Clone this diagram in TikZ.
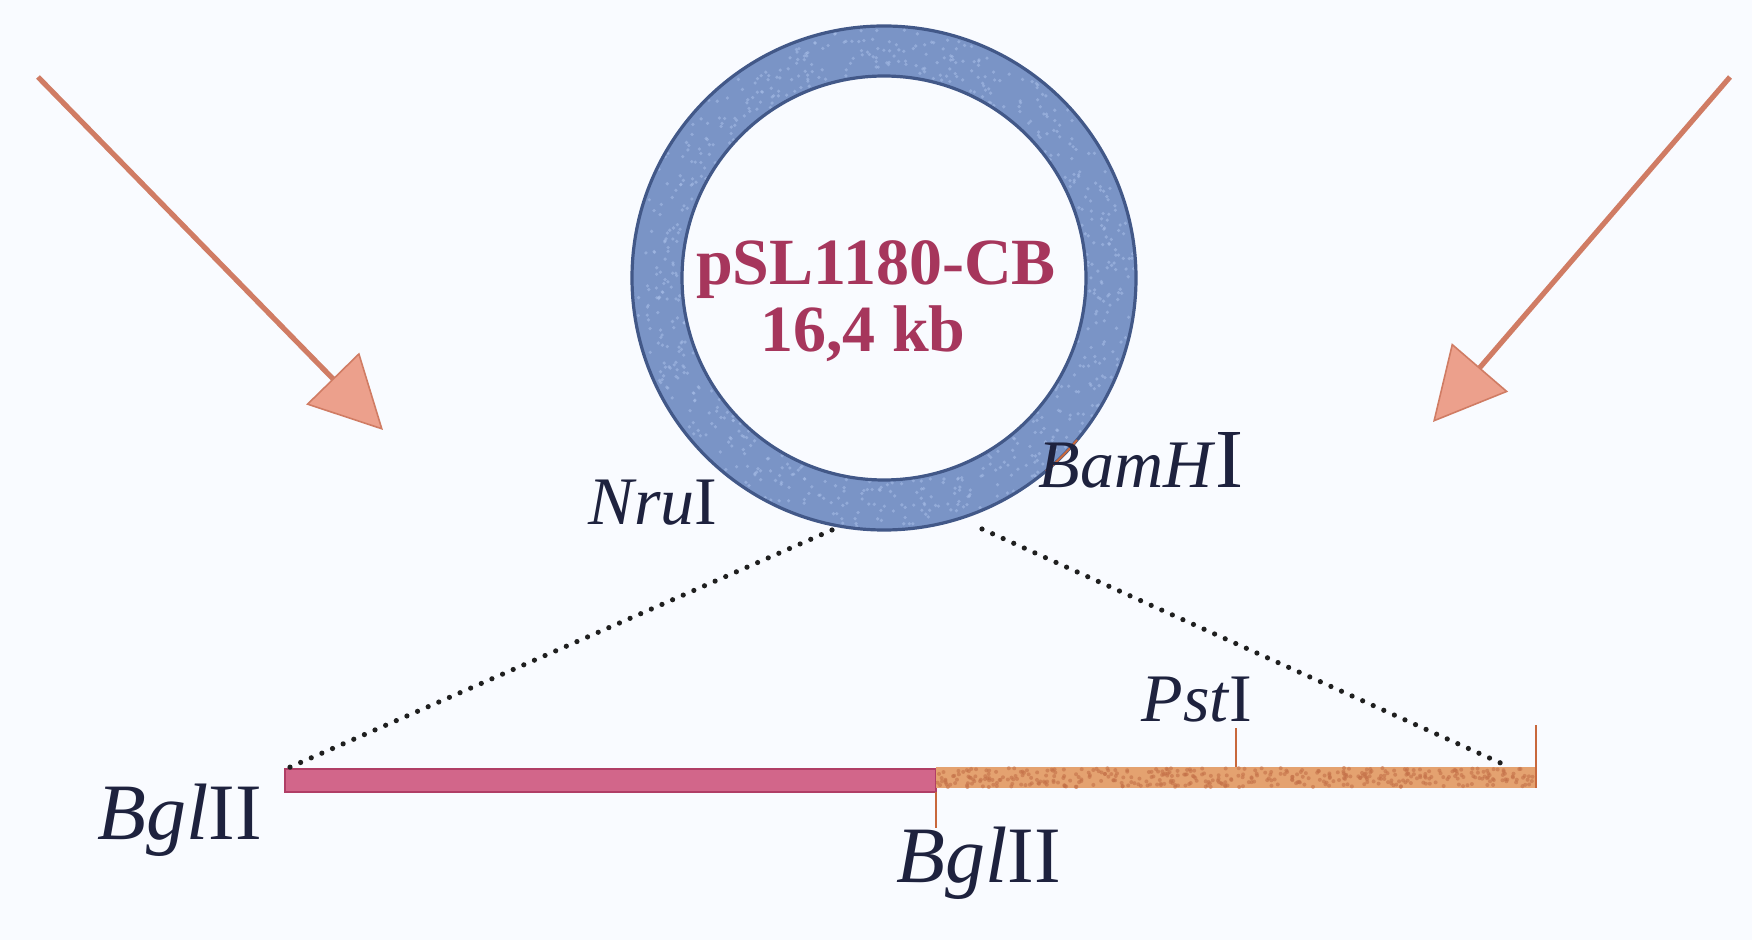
\documentclass[tikz,border=0pt]{standalone}
\usepackage{fontspec}
\setmainfont{Liberation Serif}
\usetikzlibrary{arrows.meta}

\definecolor{bgtint}{RGB}{249,251,255}
\definecolor{ringfill}{RGB}{122,148,198}
\definecolor{ringedge}{RGB}{66,88,136}
\definecolor{ringspeck}{RGB}{168,190,232}
\definecolor{arrowsalmon}{RGB}{236,160,140}
\definecolor{arrowdark}{RGB}{208,124,100}
\definecolor{insertpink}{RGB}{210,102,138}
\definecolor{insertedge}{RGB}{176,62,102}
\definecolor{vectororange}{RGB}{228,162,112}
\definecolor{vectorspeck}{RGB}{196,112,72}
\definecolor{tickorange}{RGB}{200,104,60}
\definecolor{labelink}{RGB}{30,34,62}
\definecolor{plasmidtext}{RGB}{166,54,92}

\begin{document}
\begin{tikzpicture}[x=0.5pt,y=-0.5pt,
  sitelabel/.style={font=\fontsize{34}{40}\selectfont, text=labelink, inner sep=0pt, anchor=base},
  biglabel/.style={font=\fontsize{40}{48}\selectfont, text=labelink, inner sep=0pt, anchor=base},
  plasmidword/.style={font=\bfseries\fontsize{33}{38}\selectfont, text=plasmidtext, inner sep=0pt, anchor=base},
  ringnode/.style={circle, draw=ringfill, line width=25pt, minimum size=227pt, inner sep=0pt},
  ringrim/.style={draw=ringedge, line width=1.6pt},
  salmonarrow/.style={draw=arrowdark, line width=2.6pt,
    -{Triangle[length=36pt, width=37pt, line width=0.8pt, fill=arrowsalmon]}},
  zoomline/.style={draw=black!88, line width=2.6pt, dash pattern=on 0pt off 5.8pt, line cap=round},
  sitetick/.style={draw=tickorange, line width=1.1pt},
  insertbar/.style={fill=insertpink, draw=insertedge, line width=0.8pt},
  vectorbar/.style={fill=vectororange}
]
% page background
\fill[bgtint] (0,0) rectangle (1752,940);
\useasboundingbox (0,0) rectangle (1752,940);

% incoming arrows
\coordinate (lefttail) at (38,77);
\coordinate (lefttip) at (383,430);
\coordinate (righttail) at (1730,77);
\coordinate (righttip) at (1433,422);
\draw[salmonarrow] (lefttail) -- (lefttip);
\draw[salmonarrow] (righttail) -- (righttip);

% plasmid ring
\node[ringnode] (plasmid) at (884,278) {};
\pgfmathsetseed{11}
\foreach \i in {1,...,700}{
  \pgfmathsetmacro\ang{rnd*360}
  \pgfmathsetmacro\rad{102+rnd*23}
  \fill[ringspeck, opacity=0.55] (plasmid.center) ++(\ang:\rad pt) circle (0.9pt);
}
\draw[ringrim] (plasmid.center) circle (126pt);
\draw[ringrim] (plasmid.center) circle (101pt);
\draw[tickorange, line width=1pt] (plasmid.center) ++(-40:126pt) arc[start angle=-40, end angle=-50, radius=126pt];

\node[plasmidword] (plasmidname) at (876,285) {pSL1180-CB};
\node[plasmidword] (plasmidsize) at (863,352) {16,4 kb};

% site labels on the ring
\node[sitelabel] (nru) at (653,525) {\textit{Nru}I};
\node[sitelabel] (bam) at (1141,488) {\textit{BamH}{\fontsize{42}{48}\selectfont I}};

% linear map: insert and vector
\coordinate (barL) at (288,768);
\coordinate (barR) at (1505,765);
\coordinate (cutL) at (832,530);
\coordinate (cutR) at (982,529);

\fill[insertbar] (285,769) rectangle (936,792);
\fill[vectorbar] (936,767) rectangle (1537,788);
\pgfmathsetseed{5}
\foreach \i in {1,...,420}{
  \pgfmathsetmacro\px{937+rnd*599}
  \pgfmathsetmacro\py{768+rnd*19}
  \fill[vectorspeck, opacity=0.6] (\px,\py) circle (1pt);
}

% expansion lines from the ring to the map
\draw[zoomline] (cutL) -- (barL);
\draw[zoomline] (cutR) -- (barR);

% restriction site ticks
\coordinate (bgltop) at (936,792);
\coordinate (bglend) at (936,828);
\coordinate (pstbase) at (1236,767);
\coordinate (pstend) at (1236,728);
\coordinate (endbase) at (1536,788);
\coordinate (endtop) at (1536,725);
\draw[sitetick] (bgltop) -- (bglend);
\draw[sitetick] (pstbase) -- (pstend);
\draw[sitetick] (endbase) -- (endtop);

% map labels
\node[biglabel] (bglleft) at (180,840) {\textit{Bgl}II};
\node[biglabel] (bglright) at (979,882) {\textit{Bgl}II};
\node[sitelabel] (pst) at (1197,722) {\textit{Pst}I};
\end{tikzpicture}
\end{document}
